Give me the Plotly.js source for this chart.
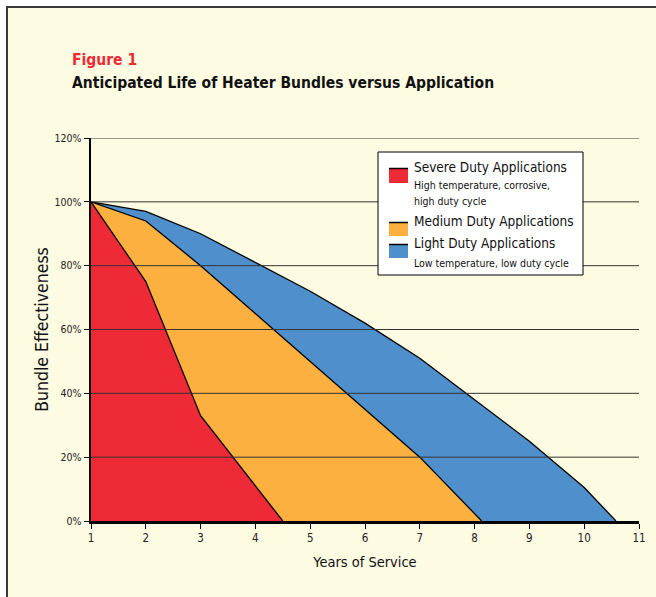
<!DOCTYPE html>
<html><head><meta charset="utf-8">
<script src="https://cdn.plot.ly/plotly-3.0.1.min.js"></script>
<style>
body{margin:0;background:#fff;}
#frame{position:absolute;left:6px;top:6px;width:670px;height:610px;border-left:2px solid #3a3a3a;border-top:2px solid #3a3a3a;background:#FDFBE1;}
#plot{position:absolute;left:0;top:0;width:656px;height:597px;}
</style></head>
<body>
<div id="frame"></div>
<div id="plot"></div>
<script>
const FONT = "'Liberation Sans Narrow', 'Arial Narrow', 'DejaVu Sans Condensed', sans-serif";
// Data
const severeYears = [1, 2, 3, 4.5];
const severeEff   = [100, 75, 33, 0];
const mediumYears = [1, 2, 3, 7, 8.13];
const mediumEff   = [100, 94, 80, 20, 0];
const lightYears  = [1, 2, 3, 5, 6, 7, 8, 9, 10, 10.58];
const lightEff    = [100, 97, 90, 72, 62, 51, 38, 25, 10.5, 0];
const xTicks = [1,2,3,4,5,6,7,8,9,10,11];
const yTicks = [0,20,40,60,80,100,120];
const yTickText = yTicks.map(v => v + '%');
const seriesNames = ['Severe Duty Applications', 'Medium Duty Applications', 'Light Duty Applications'];
const seriesNotes = [['High temperature, corrosive,', 'high duty cycle'], [], ['Low temperature, low duty cycle']];
const colors = ['#EE2A37', '#FCB040', '#4F8FCC'];

// pixel -> paper helpers (plot area: x 91..639, y 138..521)
const L = 91, R = 17, T = 138, B = 76, W = 656, H = 597;
const pw = W - L - R, ph = H - T - B;
const px = p => (p - L) / pw;
const py = p => (H - B - p) / ph;

function tr(x, y, name, color){
  return {x:x, y:y, name:name, type:'scatter', mode:'lines', fill:'tozeroy',
    fillcolor:color, line:{color:'#000', width:1.3}, hoverinfo:'skip', showlegend:false};
}
const data = [
  tr(lightYears, lightEff, seriesNames[2], colors[2]),
  tr(mediumYears, mediumEff, seriesNames[1], colors[1]),
  tr(severeYears, severeEff, seriesNames[0], colors[0])
];
const shapes = yTicks.filter(v=>v>0).map(v=>({type:'line', xref:'paper', yref:'y', x0:0, x1:1, y0:v, y1:v,
  line:{color:'#333', width:1}, layer:'above'}));

// manual legend
shapes.push({type:'rect', xref:'paper', yref:'paper', x0:px(378), x1:px(583), y0:py(152), y1:py(275),
  fillcolor:'#fff', line:{color:'#000', width:1}, layer:'above'});
const swatchY = [[168,183],[222,236],[244,258]];
const annotations = [];
swatchY.forEach((s, i) => {
  shapes.push({type:'rect', xref:'paper', yref:'paper', x0:px(389), x1:px(408), y0:py(s[0]), y1:py(s[1]),
    fillcolor:colors[i], line:{width:0}, layer:'above'});
  shapes.push({type:'line', xref:'paper', yref:'paper', x0:px(389), x1:px(408), y0:py(s[0]+0.5), y1:py(s[0]+0.5),
    line:{color:'#000', width:1.5}, layer:'above'});
});
const nameY = [167, 221, 243];
const noteY = [[185, 201], [], [263]];
nameY.forEach((y, i) => {
  annotations.push({text:seriesNames[i], xref:'paper', yref:'paper', x:px(412), y:py(y), xanchor:'left', yanchor:'middle',
    showarrow:false, font:{size:13.5, family:FONT, color:'#111'}});
  noteY[i].forEach((ny, j) => {
    annotations.push({text:seriesNotes[i][j], xref:'paper', yref:'paper', x:px(412), y:py(ny), xanchor:'left', yanchor:'middle',
      showarrow:false, font:{size:10.5, family:FONT, color:'#111'}});
  });
});
annotations.push({text:'<b>Figure 1</b>', xref:'paper', yref:'paper', x:px(70), y:py(60), xanchor:'left', yanchor:'middle',
  showarrow:false, font:{size:15.5, family:FONT, color:'#EE2A37'}});
annotations.push({text:'<b>Anticipated Life of Heater Bundles versus Application</b>', xref:'paper', yref:'paper', x:px(70), y:py(83),
  xanchor:'left', yanchor:'middle', showarrow:false, font:{size:15.5, family:FONT, color:'#111'}});

const layout = {
  width:W, height:H,
  margin:{l:L, r:R, t:T, b:B},
  paper_bgcolor:'rgba(0,0,0,0)', plot_bgcolor:'rgba(0,0,0,0)',
  font:{family:FONT, color:'#222'},
  showlegend:false,
  xaxis:{range:[1,11], tickvals:xTicks, ticks:'outside', ticklen:5, tickcolor:'#000', tickwidth:1,
    showline:true, linecolor:'#000', linewidth:2.5, showgrid:false, zeroline:false, fixedrange:true,
    tickfont:{size:11.5, family:FONT, color:'#222'},
    title:{text:'Years of Service', font:{size:14.5, family:FONT, color:'#111'}, standoff:13}},
  yaxis:{range:[0,120], tickvals:yTicks, ticktext:yTickText, ticks:'outside', ticklen:5, tickcolor:'#000', tickwidth:1,
    showline:true, linecolor:'#000', linewidth:2.5, showgrid:false, zeroline:false, fixedrange:true,
    tickfont:{size:10.5, family:FONT, color:'#222'},
    title:{text:'Bundle Effectiveness', font:{size:17.5, family:FONT, color:'#111'}, standoff:2}},
  shapes:shapes,
  annotations:annotations
};
Plotly.newPlot('plot', data, layout, {displayModeBar:false, staticPlot:true});
</script>
</body></html>
